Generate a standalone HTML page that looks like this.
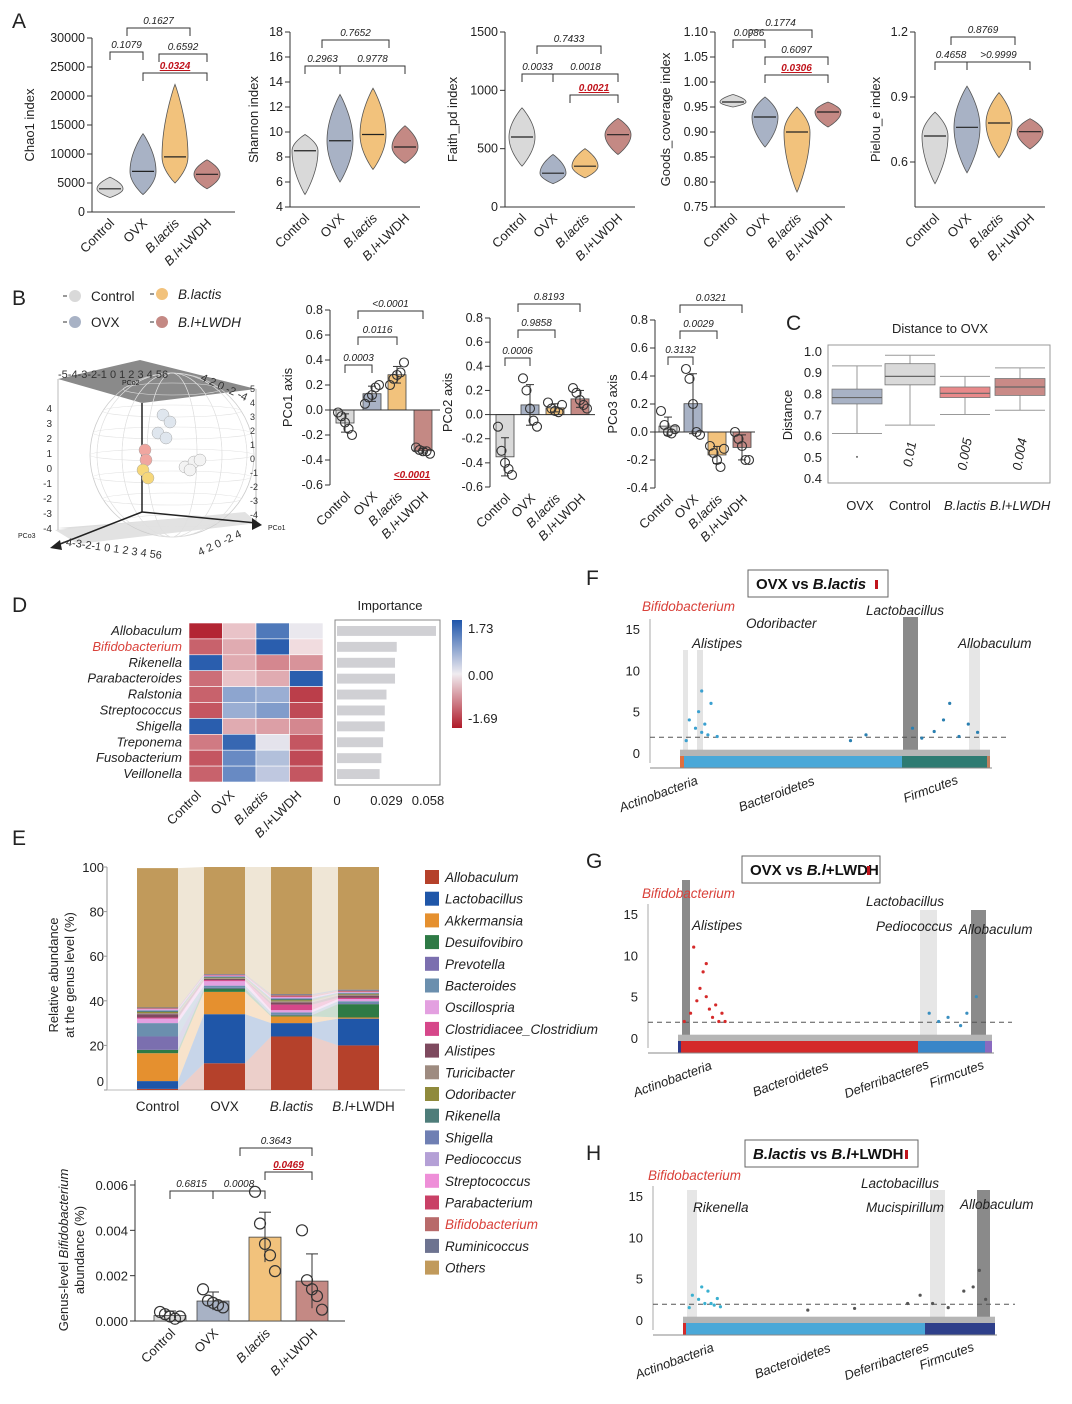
<!DOCTYPE html>
<html><head><meta charset="utf-8">
<style>
html,body{margin:0;padding:0;background:#fff;}
svg{display:block;font-family:"Liberation Sans",Arial,sans-serif;}
</style></head>
<body>
<svg id="fig" width="1072" height="1404" viewBox="0 0 1072 1404" xmlns="http://www.w3.org/2000/svg"></svg>
<script>
// ---------- data ----------
const groups = ["Control","OVX","B.lactis","B.l+LWDH"];
const groupColors = ["#d9d9d9","#a8b2c5","#f2c27c","#c48984"];
// violin [min, median, max]
const chao1 = [[2500,4000,6000],[3000,7000,13500],[5000,9500,22000],[4000,6500,9000]];
const shannon = [[5,8.5,9.8],[6,9.3,13],[7,9.8,13.5],[7.5,8.8,10.5]];
const faith = [[350,600,850],[200,290,450],[250,350,500],[450,620,760]];
const goods = [[0.95,0.96,0.975],[0.87,0.93,0.97],[0.78,0.9,0.95],[0.91,0.94,0.96]];
const pielou = [[0.5,0.72,0.83],[0.55,0.76,0.95],[0.62,0.78,0.92],[0.66,0.74,0.8]];
const chaoTicks = [0,5000,10000,15000,20000,25000,30000];
const shannonTicks = [4,6,8,10,12,14,16,18];
const faithTicks = [0,500,1000,1500];
const goodsTicks = [0.75,0.8,0.85,0.9,0.95,1.0,1.05,1.1];
const pielouTicks = [0.6,0.9,1.2];
// PCoA points
const pco1Pts = [[-0.02,-0.05,-0.1,-0.15,-0.2],[0.05,0.1,0.12,0.18,0.2],[0.2,0.25,0.28,0.3,0.38],[-0.3,-0.32,-0.33,-0.33,-0.35]];
const pco2Pts = [[-0.1,-0.3,-0.4,-0.45,-0.5],[0.3,0.2,0.05,-0.05,-0.1],[0.1,0.05,0.03,0.02,0.08],[0.22,0.18,0.12,0.08,0.05]];
const pco3Pts = [[0.15,0.05,0.0,-0.01,0.02],[0.45,0.38,0.2,0.0,-0.02],[-0.1,-0.15,-0.2,-0.25,-0.12],[0.0,-0.05,-0.1,-0.2,-0.2]];
const pco1Ticks = [-0.6,-0.4,-0.2,0,0.2,0.4,0.6,0.8];
const pco3Ticks = [-0.4,-0.2,0,0.2,0.4,0.6,0.8];
// distance boxplot [lowWhisker,q1,median,q3,highWhisker]
const distGroups = ["OVX","Control","B.lactis","B.l+LWDH"];
const distBoxes = [[0.61,0.75,0.78,0.82,0.93],[0.65,0.84,0.88,0.94,0.98],[0.70,0.78,0.80,0.83,0.88],[0.72,0.79,0.83,0.87,0.92]];
const distP = ["","0.01","0.005","0.004"];
const distTicks = [0.4,0.5,0.6,0.7,0.8,0.9,1.0];
// heatmap
const heatRows = ["Allobaculum","Bifidobacterium","Rikenella","Parabacteroides","Ralstonia","Streptococcus","Shigella","Treponema","Fusobacterium","Veillonella"];
const heatVals = [[-1.6,-0.3,1.3,0.05],[-1.1,-0.5,1.6,-0.1],[1.6,-0.5,-0.8,-0.7],[-1.0,-0.3,-0.5,1.6],[-1.1,0.8,0.7,-1.4],[-1.2,0.7,0.9,-1.3],[1.6,-0.5,-0.6,-0.8],[-0.9,1.5,0.1,-1.2],[-1.2,1.1,0.5,-1.3],[-1.1,1.1,0.4,-1.2]];
const importance = [0.058,0.035,0.034,0.034,0.029,0.028,0.028,0.027,0.026,0.025];
// stacked genus abundance
const genera = ["Allobaculum","Lactobacillus","Akkermansia","Desuifovibiro","Prevotella","Bacteroides","Oscillospria","Clostridiacee_Clostridium","Alistipes","Turicibacter","Odoribacter","Rikenella","Shigella","Pediococcus","Streptococcus","Parabacterium","Bifidobacterium","Ruminicoccus","Others"];
const genusColors = ["#b5412b","#1f56a8","#e5902f","#2e7a45","#7b6faf","#6b8fae","#e3a0e0","#d6478a","#7e4a5f","#9e8b80","#8f8a3c","#4e7d7a","#6f7fb3","#b4a0d6","#ee8fd8","#c94066","#b86a6a","#6d7390","#c19a5b"];
const abControl = [0.5,3.5,12.5,1.5,6,6,2,0.5,1.5,0.5,0.5,0.5,0.3,0.2,0.3,0.2,0.2,0.3,62.5];
const abOVX = [12,22,10,1.5,0.3,1,2,0.5,0.5,0.3,0.3,0.3,0.2,0.2,0.2,0.2,0.2,0.3,48];
const abBl = [24,6,3,0.5,0.3,1,1,2.5,1,0.5,0.5,0.5,0.3,0.3,0.3,0.3,0.5,0.5,57];
const abLW = [20,12,0.5,6,0.3,1,1,0.5,1,0.5,0.3,0.3,0.2,0.2,0.2,0.2,0.3,0.5,55];
const abTicks = [0,20,40,60,80,100];
// bifidobacterium abundance
const bifPts = [[0.0004,0.0003,0.0002,0.0001,0.0002],[0.0014,0.0009,0.0008,0.0007,0.0006],[0.0057,0.0043,0.0034,0.0029,0.0022],[0.0040,0.0018,0.0014,0.0011,0.0005]];
const bifSD = [0.0002,0.0004,0.0011,0.0012];
const bifTicks = [0,0.002,0.004,0.006];
// manhattan highlight points [fraction along x, -log10 p]
const manF = [[0.02,1.5],[0.03,4],[0.05,3],[0.07,2.5],[0.06,5],[0.08,3.5],[0.09,2.2],[0.1,6],[0.07,7.5],[0.12,2],[0.55,1.5],[0.6,2.2],[0.75,3],[0.78,1.8],[0.82,2.6],[0.85,4],[0.87,6],[0.9,2],[0.93,3.5],[0.96,2.5]];
const manG = [[0.02,2],[0.04,3],[0.06,4.5],[0.07,6],[0.08,8],[0.09,5],[0.1,3.5],[0.11,2.5],[0.12,4],[0.13,2],[0.05,11],[0.09,9],[0.14,3],[0.15,2],[0.8,3],[0.83,2],[0.86,2.5],[0.9,1.5],[0.92,3],[0.95,5]];
const manH = [[0.02,1.5],[0.03,3],[0.05,2.5],[0.06,4],[0.07,2],[0.08,3.5],[0.09,2],[0.1,1.8],[0.11,2.6],[0.12,1.6],[0.72,2],[0.76,3],[0.8,2],[0.85,1.5],[0.9,3.5],[0.93,4],[0.95,6],[0.97,2.5],[0.55,1.4],[0.4,1.2]];

// ---------- helpers ----------
const NS="http://www.w3.org/2000/svg";
const svg=document.getElementById('fig');
function mk(tag,attrs,parent){const e=document.createElementNS(NS,tag);for(const k in attrs)e.setAttribute(k,attrs[k]);(parent||svg).appendChild(e);return e;}
function txt(x,y,s,o){o=o||{};const e=mk('text',{x:x,y:y,'font-size':o.size||12,'text-anchor':o.anchor||'start',fill:o.fill||'#222'});if(o.italic)e.setAttribute('font-style','italic');if(o.bold)e.setAttribute('font-weight','bold');if(o.rot!==undefined)e.setAttribute('transform','rotate('+o.rot+' '+x+' '+y+')');e.textContent=s;return e;}
function lin(x1,y1,x2,y2,c,w,d){const e=mk('line',{x1:x1,y1:y1,x2:x2,y2:y2,stroke:c||'#333','stroke-width':w||1});if(d)e.setAttribute('stroke-dasharray',d);return e;}
function scale(d0,d1,r0,r1){return v=>r0+(v-d0)/(d1-d0)*(r1-r0);}
function fmt(v,dec){return v.toFixed(dec);}
function groupLabel(x,y,name,size){const e=mk('text',{x:x,y:y,'font-size':size||13,'text-anchor':'end',fill:'#222',transform:'rotate(-45 '+x+' '+y+')'});
  if(name==="B.lactis"){e.setAttribute('font-style','italic');e.textContent=name;}
  else if(name==="B.l+LWDH"){const t=mk('tspan',{'font-style':'italic'},e);t.textContent="B.l";const t2=mk('tspan',{},e);t2.textContent="+LWDH";}
  else e.textContent=name;
  
  
  return e;}
function bracket(x1,x2,y,label,red){const g=mk('path',{d:'M'+x1+' '+(y+8)+'V'+y+'H'+x2+'V'+(y+8),fill:'none',stroke:'#333','stroke-width':1});
  
  
  const t=txt((x1+x2)/2,y-4,label,{size:10,anchor:'middle',italic:true,fill:red?'#c0141c':'#222',bold:!!red});
  
  
  if(red)t.setAttribute('text-decoration','underline');}
function letter(x,y,s){const t=txt(x,y,s,{size:21});}

// ---------- Panel A: violins ----------
letter(12,28,"A");
function violinPanel(cfg){
  const y=scale(cfg.min,cfg.max,cfg.yb,cfg.yt);
  lin(cfg.xl,cfg.yt,cfg.xl,cfg.yb);
  lin(cfg.xl,cfg.yb,cfg.xr,cfg.yb);
  cfg.ticks.forEach(v=>{lin(cfg.xl-5,y(v),cfg.xl,y(v));
    const t=txt(cfg.xl-7,y(v)+4,fmt(v,cfg.dec),{size:12.5,anchor:'end'});
    
    });
  const yt=txt(cfg.xl-cfg.tOff,(cfg.yt+cfg.yb)/2,cfg.title,{size:13,anchor:'middle',rot:-90});
  
  
  cfg.data.forEach((d,i)=>{
    const cx=cfg.gx[i],W=13;let L=[],R=[];
    const N=30;
    for(let k=0;k<=N;k++){const v=d[0]+(d[2]-d[0])*k/N;let s;
      if(v<=d[1])s=(v-d[0])/(d[1]-d[0]);else s=(d[2]-v)/(d[2]-d[1]);
      const w=W*Math.pow(Math.sin(Math.min(1,s)*Math.PI/2),0.9);
      L.push((cx-w)+','+y(v));R.unshift((cx+w)+','+y(v));}
    const p=mk('polygon',{points:L.concat(R).join(' '),fill:groupColors[i],stroke:'#555','stroke-width':0.8});
    
    
    const m=lin(cx-11,y(d[1]),cx+11,y(d[1]),'#222',1.2);
    
    
    groupLabel(cx+5,cfg.yb+12,groups[i]);
  });
  cfg.br.forEach(b=>bracket(b[0],b[1],b[2],b[3],b[4]));
}
violinPanel({xl:92,xr:235,yt:38,yb:212,min:0,max:30000,ticks:chaoTicks,dec:0,title:"Chao1 index",tOff:58,data:chao1,gx:[110,143,175,207],
 br:[[110,143,52,"0.1079"],[127,190,28,"0.1627"],[159,207,54,"0.6592"],[143,207,73,"0.0324",1]]});
violinPanel({xl:290,xr:420,yt:32,yb:207,min:4,max:18,ticks:shannonTicks,dec:0,title:"Shannon index",tOff:32,data:shannon,gx:[305,340,373,405],
 br:[[305,340,66,"0.2963"],[322,389,40,"0.7652"],[340,405,66,"0.9778"]]});
violinPanel({xl:505,xr:635,yt:32,yb:207,min:0,max:1500,ticks:faithTicks,dec:0,title:"Faith_pd index",tOff:48,data:faith,gx:[522,553,585,618],
 br:[[522,553,74,"0.0033"],[537,601,46,"0.7433"],[553,618,74,"0.0018"],[570,618,95,"0.0021",1]]});
violinPanel({xl:715,xr:845,yt:32,yb:207,min:0.75,max:1.1,ticks:goodsTicks,dec:2,title:"Goods_coverage index",tOff:45,data:goods,gx:[733,765,797,828],
 br:[[733,765,40,"0.0986"],[749,812,30,"0.1774"],[765,828,57,"0.6097"],[765,828,75,"0.0306",1]]});
violinPanel({xl:915,xr:1045,yt:32,yb:207,min:0.3923,max:1.2,ticks:pielouTicks,dec:1,title:"Pielou_e index",tOff:35,data:pielou,gx:[935,967,999,1030],
 br:[[935,967,62,"0.4658"],[951,1015,37,"0.8769"],[967,1030,62,">0.9999"]]});

// ---------- Panel B ----------
letter(12,305,"B");
[[75,300,0,"Control"],[75,326,1,"OVX"],[162,298,2,"B.lactis"],[162,326,3,"B.l+LWDH"]].forEach(l=>{
  const c=mk('circle',{cx:l[0],cy:l[1]-4,r:6,fill:groupColors[l[2]]});
  
  
  lin(l[0]-12,l[1]-4,l[0]-8,l[1]-4,'#999',2);
  const t=txt(l[0]+16,l[1]+1,l[3],{size:13.5,italic:l[2]>=2});
  
  
});
// 3D box
(function(){
  const g=mk('g',{});
  
  
  mk('polygon',{points:'58,528 243,513 252,520 80,530 ',fill:'#ddd'},g);
  mk('polygon',{points:'55,530 245,512 258,523 78,544',fill:'#e2e2e2'},g);
  mk('polygon',{points:'58,379 140,360 256,389 142,403',fill:'#8a8a8a'},g);
  mk('circle',{cx:172,cy:455,r:82,fill:'none',stroke:'#ccc','stroke-width':0.8},g);
  for(let k=-3;k<=3;k++){mk('ellipse',{cx:172,cy:455+k*22,rx:Math.sqrt(82*82-(k*22)*(k*22)),ry:6,fill:'none',stroke:'#e0e0e0','stroke-width':0.6},g);
    mk('ellipse',{cx:172,cy:455,rx:Math.abs(k)*25,ry:82,fill:'none',stroke:'#e0e0e0','stroke-width':0.6},g);}
  mk('line',{x1:58,y1:379,x2:58,y2:530,stroke:'#bbb'},g);
  mk('line',{x1:256,y1:389,x2:256,y2:523,stroke:'#bbb'},g);
  mk('line',{x1:142,y1:403,x2:142,y2:512,stroke:'#222','stroke-width':1.5},g);
  mk('line',{x1:142,y1:512,x2:55,y2:546,stroke:'#222','stroke-width':1.5},g);
  mk('line',{x1:142,y1:512,x2:256,y2:523,stroke:'#222','stroke-width':1.5},g);
  mk('polygon',{points:'50,548 60,540 62,550',fill:'#222'},g);
  mk('polygon',{points:'262,525 252,518 252,530',fill:'#222'},g);
  const sph=[[163,415,'#dfe6ee'],[170,422,'#dfe6ee'],[158,433,'#dfe6ee'],[166,438,'#dfe6ee'],[145,450,'#f0a6a0'],[146,460,'#f0a6a0'],[143,470,'#f6d77a'],[148,478,'#f6d77a'],[185,467,'#f3f3f3'],[194,462,'#f3f3f3'],[200,460,'#f3f3f3'],[190,470,'#f3f3f3']];
  sph.forEach(s=>mk('circle',{cx:s[0],cy:s[1],r:6,fill:s[2],stroke:'#aaa','stroke-width':0.5},g));
  const t1=mk('text',{x:58,y:378,'font-size':11,fill:'#333'},g);t1.textContent='-5-4-3-2-1 0  1 2 3  4  56';
  const t2=mk('text',{x:200,y:380,'font-size':11,fill:'#333',transform:'rotate(25 200 380)'},g);t2.textContent='4 2 0 -2 -4';
  const t3=mk('text',{x:62,y:545,'font-size':11,fill:'#333',transform:'rotate(8 62 545)'},g);t3.textContent='-4-3-2-1 0  1 2  3  4  56';
  const t4=mk('text',{x:200,y:556,'font-size':11,fill:'#333',transform:'rotate(-25 200 556)'},g);t4.textContent='4 2 0 -2 4';
  const t5=mk('text',{x:122,y:385,'font-size':7,fill:'#222'},g);t5.textContent='PCo2';
  const t6=mk('text',{x:268,y:530,'font-size':7,fill:'#222'},g);t6.textContent='PCo1';
  const t7=mk('text',{x:18,y:538,'font-size':7,fill:'#222'},g);t7.textContent='PCo3';
  ['4','3','2','1','0','-1','-2','-3','-4'].forEach((s,i)=>{const a=mk('text',{x:52,y:412+i*15,'font-size':10,fill:'#333','text-anchor':'end'},g);a.textContent=s;});
  ['5','4','3','2','1','0','-1','-2','-3','-4'].forEach((s,i)=>{const a=mk('text',{x:250,y:392+i*14,'font-size':9,fill:'#333'},g);a.textContent=s;});
})();
function pcoPanel(cfg){
  const y=scale(cfg.min,cfg.max,cfg.yb,cfg.yt);
  lin(cfg.xl,cfg.yt,cfg.xl,cfg.yb);
  cfg.ticks.forEach(v=>{lin(cfg.xl-5,y(v),cfg.xl,y(v));
    const t=txt(cfg.xl-7,y(v)+4,fmt(v,1),{size:12.5,anchor:'end'});
    
    });
  const yt=txt(cfg.xl-cfg.tOff,(cfg.yt+cfg.yb)/2,cfg.title,{size:13,anchor:'middle',rot:-90});
  
  
  cfg.pts.forEach((ps,i)=>{
    const mean=ps.reduce((a,b)=>a+b,0)/ps.length;
    const sd=Math.sqrt(ps.reduce((a,b)=>a+(b-mean)*(b-mean),0)/(ps.length-1));
    const cx=cfg.gx[i],bw=18;
    const r=mk('rect',{x:cx-bw/2,y:Math.min(y(0),y(mean)),width:bw,height:Math.abs(y(mean)-y(0)),fill:groupColors[i],stroke:'#444','stroke-width':0.8});
    
    
    lin(cx,y(mean-sd),cx,y(mean+sd),'#333',1);lin(cx-4,y(mean+sd),cx+4,y(mean+sd));lin(cx-4,y(mean-sd),cx+4,y(mean-sd));
    ps.forEach((v,k)=>{const c=mk('circle',{cx:cx+(k-2)*3.5,cy:y(v),r:4.5,fill:'none',stroke:'#333','stroke-width':1.1});
      
      });
    groupLabel(cx+6,cfg.yb+12,groups[i]);
  });
  lin(cfg.xl,y(0),cfg.xr,y(0));
  cfg.br.forEach(b=>bracket(b[0],b[1],b[2],b[3],b[4]));
}
pcoPanel({xl:330,xr:440,yt:310,yb:485,min:-0.6,max:0.8,ticks:pco1Ticks,title:"PCo1 axis",tOff:38,pts:pco1Pts,gx:[345,372,397,423],
 br:[[345,372,365,"0.0003"],[358,397,337,"0.0116"],[358,423,311,"<0.0001"]]});
txt(412,478,"<0.0001",{size:10,anchor:'middle',italic:true,bold:true,fill:'#c0141c'}).setAttribute('text-decoration','underline');
pcoPanel({xl:490,xr:595,yt:318,yb:487,min:-0.6,max:0.8,ticks:pco1Ticks,title:"PCo2 axis",tOff:38,pts:pco2Pts,gx:[505,530,555,580],
 br:[[505,530,358,"0.0006"],[518,555,330,"0.9858"],[518,580,304,"0.8193"]]});
pcoPanel({xl:655,xr:755,yt:320,yb:488,min:-0.4,max:0.8,ticks:pco3Ticks,title:"PCo3 axis",tOff:38,pts:pco3Pts,gx:[668,693,717,742],
 br:[[668,693,357,"0.3132"],[680,717,331,"0.0029"],[680,742,305,"0.0321"]]});

// ---------- Panel C ----------
letter(786,330,"C");
(function(){
  const y=scale(0.4,1.0,478,351);
  const tt=txt(940,333,"Distance to OVX",{size:13,anchor:'middle'});
  
  
  const fr=mk('rect',{x:828,y:345,width:222,height:138,fill:'none',stroke:'#999'});
  
  
  distTicks.forEach(v=>{const t=txt(822,y(v)+5,fmt(v,1),{size:13,anchor:'end'});
    
    });
  const yt=txt(792,415,"Distance",{size:13,anchor:'middle',rot:-90});
  
  
  const gx=[857,910,965,1020],cols=["#a8b2c5","#d9d9d9","#e8898a","#c98a87"];
  distBoxes.forEach((b,i)=>{const cx=gx[i],w=50;
    lin(cx,y(b[0]),cx,y(b[1]),'#999');lin(cx,y(b[3]),cx,y(b[4]),'#999');
    lin(cx-25,y(b[0]),cx+25,y(b[0]),'#999');lin(cx-25,y(b[4]),cx+25,y(b[4]),'#999');
    const r=mk('rect',{x:cx-w/2,y:y(b[3]),width:w,height:y(b[1])-y(b[3]),fill:cols[i],stroke:'#777','stroke-width':0.8});
    
    
    lin(cx-w/2,y(b[2]),cx+w/2,y(b[2]),'#666',1.2);
    if(distP[i]){const t=txt(cx+4,455,distP[i],{size:13,anchor:'middle',italic:true,rot:-80});
      
      }
    const xl=txt(cx+(i==0?3:0),510,distGroups[i],{size:13,anchor:'middle',italic:i>=2});
    
    
  });
  mk('circle',{cx:857,cy:y(0.5),r:1,fill:'#666'});
})();

// ---------- Panel D ----------
letter(12,612,"D");
(function(){
  const x0=189,cw=33.5,y0=623,rh=15.9;
  function hc(v){const t=Math.max(-1,Math.min(1,v/1.7));
    const lerp=(a,b,s)=>Math.round(a+(b-a)*s);
    if(t>=0){return 'rgb('+lerp(240,30,t)+','+lerp(236,85,t)+','+lerp(240,170,t)+')';}
    const s=-t;return 'rgb('+lerp(245,175,s)+','+lerp(232,25,s)+','+lerp(234,40,s)+')';}
  heatRows.forEach((r,i)=>{
    const t=txt(182,y0+rh*i+12,r,{size:13,anchor:'end',italic:true,fill:r==="Bifidobacterium"?'#d9413a':'#222'});
    
    
    heatVals[i].forEach((v,j)=>{const c=mk('rect',{x:x0+cw*j,y:y0+rh*i,width:cw,height:rh,fill:hc(v),stroke:'#fff','stroke-width':0.6});
      
      });
  });
  groups.forEach((g,j)=>groupLabel(x0+cw*j+cw/2-4,y0+rh*10+14,g));
  const fr=mk('rect',{x:335,y:620,width:105,height:165,fill:'none',stroke:'#888'});
  
  
  const it=txt(390,610,"Importance",{size:13,anchor:'middle'});
  
  
  const xi=scale(0,0.058,337,436);
  importance.forEach((v,i)=>{const b=mk('rect',{x:337,y:y0+rh*i+3,width:xi(v)-337,height:rh-6,fill:'#d0d0d4'});
    
    });
  [[0,"0"],[0.029,"0.029"],[0.058,"0.058"]].forEach(k=>{const t=txt(k[0]===0?337:xi(k[0])-(k[0]==0.058?8:0),805,k[1],{size:13,anchor:'middle'});
    
    });
  const gd=mk('linearGradient',{id:'cb',x1:0,y1:0,x2:0,y2:1},mk('defs',{}));
  [['0',hc(1.73)],['0.5',hc(0)],['1',hc(-1.69)]].forEach(s=>mk('stop',{offset:s[0],'stop-color':s[1]},gd));
  const cb=mk('rect',{x:452,y:620,width:10,height:108,fill:'url(#cb)'});
  
  
  [[633,"1.73"],[680,"0.00"],[723,"-1.69"]].forEach(k=>{const t=txt(468,k[0],k[1],{size:13});});
})();

// ---------- Panel E: stacked bars ----------
letter(12,845,"E");
(function(){
  const y=scale(0,100,1090,867);
  const data=[abControl,abOVX,abBl,abLW];const bx=[137,204,271,338],bw=41;
  lin(107,867,107,1090,'#999');lin(107,1090,405,1090,'#bbb');
  abTicks.forEach(v=>{lin(104,y(v),107,y(v),'#999');const t=txt(104,y(v)+(v==0?-4:5),String(v),{size:13,anchor:'end'});
    
    });
  const a1=txt(58,975,"Relative abundance",{size:13,anchor:'middle',rot:-90});
  
  
  const a2=txt(74,975,"at the genus level (%)",{size:13,anchor:'middle',rot:-90});
  
  
  const cum=data.map(d=>{let c=[0];d.forEach(v=>c.push(c[c.length-1]+v));return c;});
  for(let i=0;i<3;i++){genera.forEach((g,k)=>{
    const p=mk('polygon',{points:[[bx[i]+bw,y(cum[i][k])],[bx[i+1],y(cum[i+1][k])],[bx[i+1],y(cum[i+1][k+1])],[bx[i]+bw,y(cum[i][k+1])]].map(a=>a.join(',')).join(' '),fill:genusColors[k],'fill-opacity':0.25});
    
    });}
  data.forEach((d,i)=>{d.forEach((v,k)=>{const r=mk('rect',{x:bx[i],y:y(cum[i][k+1]),width:bw,height:y(cum[i][k])-y(cum[i][k+1]),fill:genusColors[k]});
    
    });
    const xl=mk('text',{x:bx[i]+bw/2+(i==3?5:0),y:1111,'font-size':13.5,'text-anchor':'middle',fill:'#222'});
    if(i==2){xl.setAttribute('font-style','italic');xl.textContent="B.lactis";}
    else if(i==3){const s=mk('tspan',{'font-style':'italic'},xl);s.textContent="B.l";const s2=mk('tspan',{},xl);s2.textContent="+LWDH";}
    else xl.textContent=groups[i];
    
    });
  genera.forEach((g,k)=>{const yy=870+k*21.7;
    const s=mk('rect',{x:425,y:yy,width:14,height:14,fill:genusColors[k]});
    
    
    const t=txt(445,yy+12,g,{size:13.5,italic:true,fill:g==="Bifidobacterium"?'#d9413a':'#222'});
    
    });
})();
// bottom bifido bar chart
(function(){
  const y=scale(0,0.006,1321,1185);const gx=[170,213,265,312];
  lin(135,1180,135,1321);lin(135,1321,345,1321);
  bifTicks.forEach(v=>{lin(130,y(v),135,y(v));const t=txt(128,y(v)+5,fmt(v,3),{size:13,anchor:'end'});
    
    });
  const t1=mk('text',{x:68,y:1250,'font-size':13,'text-anchor':'middle',fill:'#222',transform:'rotate(-90 68 1250)'});
  const s1=mk('tspan',{},t1);s1.textContent="Genus-level ";const s2=mk('tspan',{'font-style':'italic'},t1);s2.textContent="Bifidobacterium";
  
  
  const t2=txt(84,1250,"abundance (%)",{size:13,anchor:'middle',rot:-90});
  
  
  bifPts.forEach((ps,i)=>{const mean=ps.reduce((a,b)=>a+b,0)/ps.length;const cx=gx[i];
    const r=mk('rect',{x:cx-16,y:y(mean),width:32,height:y(0)-y(mean),fill:groupColors[i],stroke:'#444','stroke-width':0.8});
    
    
    lin(cx,y(mean-bifSD[i]),cx,y(mean+bifSD[i]));lin(cx-6,y(mean+bifSD[i]),cx+6,y(mean+bifSD[i]));
    ps.forEach((v,k)=>{const c=mk('circle',{cx:cx+(k-2)*5,cy:y(v),r:5.5,fill:'none',stroke:'#333','stroke-width':1.2});
      
      });
    groupLabel(cx+6,1334,groups[i]);});
  bracket(170,213,1191,"0.6815");bracket(213,265,1191,"0.0008");bracket(240,312,1148,"0.3643");bracket(265,312,1172,"0.0469",1);
})();

// ---------- Manhattan F G H ----------
function manhattan(cfg){
  letter(cfg.lx,cfg.ly,cfg.letter);
  const y=scale(0,15,cfg.y0,cfg.y15);
  const x=scale(0,1,cfg.xl,cfg.xr);
  const bx=mk('rect',{x:cfg.box[0],y:cfg.box[1],width:cfg.box[2],height:27,fill:'#fff',stroke:'#666'});
  
  
  const tt=mk('text',{x:cfg.box[0]+8,y:cfg.box[1]+19,'font-size':15,fill:'#111'});
  cfg.title.forEach(p=>{const s=mk('tspan',{},tt);if(p[1])s.setAttribute('font-style','italic');if(p[2])s.setAttribute('font-weight','bold');s.textContent=p[0];});
  
  
  mk('rect',{x:cfg.box[0]+cfg.box[2]-13,y:cfg.box[1]+10,width:3,height:9,fill:'#c0141c'});
  cfg.cols.forEach(c=>{const r=mk('rect',{x:c[0],y:c[2],width:c[1]-c[0],height:cfg.y0+4-c[2],fill:c[3]});
    
    });
  lin(cfg.xl-30,cfg.y15-10,cfg.xl-30,cfg.y0+10,'#aaa');
  [0,5,10,15].forEach(v=>{const t=txt(cfg.xl-40,y(v)+5,String(v),{size:13,anchor:'end'});
    
    });
  const base=mk('rect',{x:cfg.xl,y:y(0.4),width:cfg.xr-cfg.xl,height:y(0)-y(0.4)+3,fill:'#b5b5b5'});
  
  
  const dl=lin(cfg.xl-30,y(1.9),cfg.xr+20,y(1.9),'#555',1,'5,4');
  
  
  cfg.pts.forEach(p=>{const c=mk('circle',{cx:x(p[0]),cy:y(p[1]),r:1.6,fill:p[0]<0.4?cfg.c1:cfg.c2});
    
    });
  cfg.bar.forEach(b=>{const r=mk('rect',{x:b[0],y:cfg.y0+3,width:b[1]-b[0],height:12,fill:b[2]});
    
    });
  lin(cfg.xl-30,cfg.y0+15,cfg.xr+2,cfg.y0+15,'#888');
  cfg.phyla.forEach(p=>{const t=txt(p[0],cfg.y0+p[1],p[2],{size:13,anchor:'middle',italic:true,rot:-20});
    
    });
  cfg.labels.forEach(l=>{const t=txt(l[0],l[1],l[2],{size:13.5,italic:true,fill:l[3]||'#222'});
    
    });
}
manhattan({letter:"F",lx:586,ly:585,xl:680,xr:990,y0:753,y15:629,box:[748,570,140],title:[["OVX",0,1],["  vs  ",0,1],["B.lactis",1,1]],
 cols:[[683,688,650,'#e6e6e6'],[697,703,650,'#e3e3e3'],[903,918,617,'#8a8a8a'],[969,980,645,'#e6e6e6']],
 pts:manF,c1:'#3aa0d0',c2:'#2a7fb0',
 bar:[[680,684,'#e07040'],[684,902,'#4aa8d8'],[902,987,'#2e7b72'],[987,990,'#c08060']],
 phyla:[[660,45,"Actinobacteria"],[778,45,"Bacteroidetes"],[932,40,"Firmcutes"]],
 labels:[[642,611,"Bifidobacterium",'#d9413a'],[746,628,"Odoribacter"],[692,648,"Alistipes"],[866,615,"Lactobacillus"],[958,648,"Allobaculum"]]});
manhattan({letter:"G",lx:586,ly:868,xl:678,xr:992,y0:1038,y15:914,box:[742,856,138],title:[["OVX",0,1],["  vs  ",0,1],["B.l",1,1],["+LWDH",0,1]],
 cols:[[682,690,880,'#8a8a8a'],[920,937,910,'#e6e6e6'],[971,986,910,'#8a8a8a']],
 pts:manG,c1:'#d52a2a',c2:'#3a8fc0',
 bar:[[678,681,'#2a3a8a'],[681,918,'#d42a2a'],[918,985,'#3a86c8'],[985,992,'#8a6ac0']],
 phyla:[[674,45,"Actinobacteria"],[792,45,"Bacteroidetes"],[888,45,"Deferribacteres"],[958,40,"Firmcutes"]],
 labels:[[642,898,"Bifidobacterium",'#d9413a'],[692,930,"Alistipes"],[866,906,"Lactobacillus"],[876,931,"Pediococcus"],[959,934,"Allobaculum"]]});
manhattan({letter:"H",lx:586,ly:1160,xl:683,xr:995,y0:1320,y15:1196,box:[745,1140,173],title:[["B.lactis",1,1],["  vs  ",0,1],["B.l",1,1],["+LWDH",0,1]],
 cols:[[687,697,1190,'#e6e6e6'],[930,945,1190,'#e6e6e6'],[977,990,1190,'#8a8a8a']],
 pts:manH,c1:'#3ab0d0',c2:'#555',
 bar:[[683,686,'#d42a2a'],[686,925,'#4aa8d8'],[925,995,'#2e3f8a']],
 phyla:[[676,45,"Actinobacteria"],[794,45,"Bacteroidetes"],[888,45,"Deferribacteres"],[948,40,"Firmcutes"]],
 labels:[[648,1180,"Bifidobacterium",'#d9413a'],[693,1212,"Rikenella"],[861,1188,"Lactobacillus"],[866,1212,"Mucispirillum"],[960,1209,"Allobaculum"]]});
</script>
</body></html>
